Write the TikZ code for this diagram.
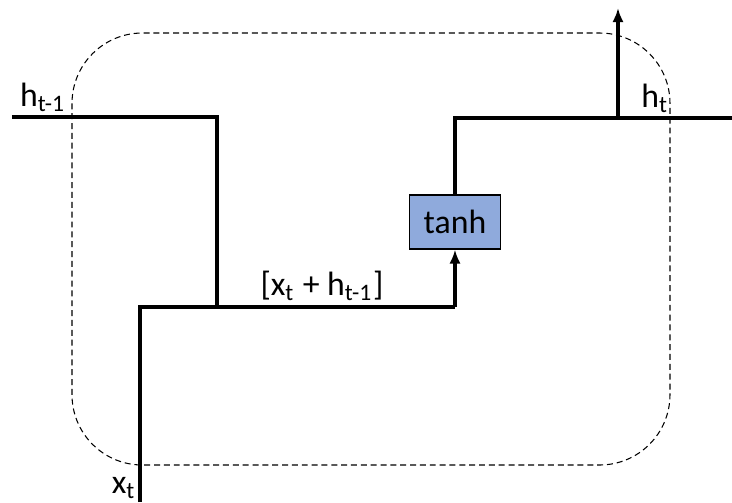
\documentclass[tikz,border=0pt]{standalone}
\usepackage{fontspec}
\setmainfont{Carlito}
\usepackage{xcolor}
\usetikzlibrary{arrows.meta, positioning, calc}
\definecolor{tanhblue}{RGB}{143,170,220}
\tikzset{
  wire/.style={line width=1pt, color=black},
  wirearrow/.style={wire, -{Latex[length=4pt, width=3.2pt]}},
  cellbox/.style={draw, dashed, dash pattern=on 1.7pt off 1.1pt, line width=0.3pt, rounded corners=20pt},
  actbox/.style={draw, fill=tanhblue, line width=0.3pt, minimum width=0.91cm, minimum height=0.54cm,
    inner sep=0pt, font=\fontsize{9.6}{11}\selectfont},
  varlabel/.style={font=\fontsize{9.6}{11}\selectfont, inner sep=0pt},
}

\begin{document}
\begin{tikzpicture}[x=0.01cm, y=-0.01cm]
  \useasboundingbox (0,0) rectangle (732,502);
  % cell outline
  \draw[cellbox] (72,33) rectangle (670,465);
  % points of the wires
  \coordinate (hin) at (12,117);
  \coordinate (hturn) at (217,117);
  \coordinate (join) at (217,307);
  \coordinate (xin) at (140,502);
  \coordinate (xturn) at (140,307);
  \coordinate (cturn) at (455,307);
  \coordinate (oturn) at (455,118);
  \coordinate (hout) at (732,118);
  \coordinate (branch) at (618,118);
  \coordinate (up) at (618,8);
  \node[actbox] (tanh) at (455,222) {tanh};
  % wires
  \draw[wire] (hin) -- (hturn) -- (join);
  \draw[wire] (xin) -- (xturn) -- (cturn);
  \draw[wirearrow] (cturn) -- (tanh.south);
  \draw[wire] (tanh.north) -- (oturn) -- (hout);
  \draw[wirearrow] (branch) -- (up);
  % labels
  \node[varlabel] (hprev) at (43,97) {h\textsubscript{t-1}};
  \node[varlabel] (hnow) at (655,98) {h\textsubscript{t}};
  \node[varlabel] (xnow) at (124,488) {x\textsubscript{t}};
  \node[varlabel] (concat) at (322,286) {[x\textsubscript{t} + h\textsubscript{t-1}]};
\end{tikzpicture}
\end{document}
